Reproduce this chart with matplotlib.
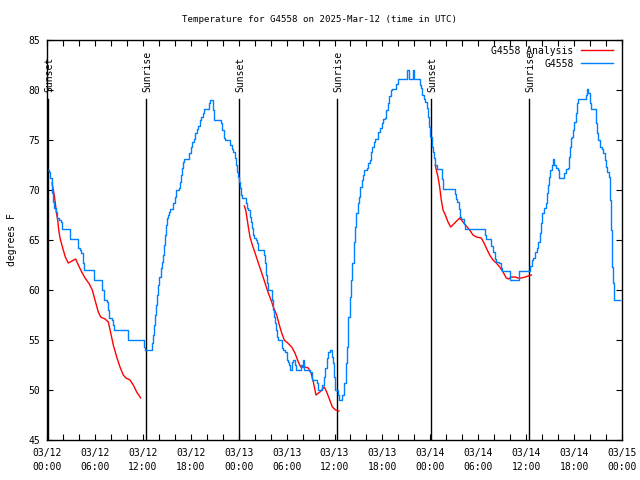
import matplotlib
matplotlib.use('Agg')
import matplotlib.pyplot as plt
import numpy as np

plt.rcParams.update({'font.size': 7, 'font.family': 'DejaVu Sans Mono'})

# hours since 03/12 00:00 UTC
obs_hr = [0.0, 0.16, 0.24, 0.41, 0.59, 0.71, 0.88, 1.13, 1.29, 1.50, 1.75, 1.88, 2.92, 3.84, 4.09, 4.30, 4.47, 4.60,
          5.92, 6.89, 7.14, 7.48, 7.68, 7.80, 8.10, 8.26, 8.39, 10.18, 12.11, 12.23, 13.19, 13.31, 13.44, 13.56,
          13.69, 13.81, 13.94, 14.06, 14.24, 14.36, 14.49, 14.61, 14.78, 14.90, 15.03, 15.19, 15.31, 15.44, 15.82,
          15.99, 16.15, 16.49, 16.62, 16.74, 16.87, 17.03, 17.16, 17.82, 17.99, 18.16, 18.37, 18.49, 18.75, 18.91,
          19.12, 19.32, 19.50, 19.66, 20.32, 20.45, 20.82, 20.91, 21.79, 21.95, 22.13, 22.29, 22.92, 23.13, 23.33,
          23.50, 23.63, 23.75, 23.88, 24.00, 24.13, 24.26, 24.42, 24.88, 25.01, 25.21, 25.38, 25.51, 25.63, 25.80,
          25.96, 26.17, 26.33, 26.46, 27.17, 27.30, 27.42, 27.59, 27.71, 28.14, 28.30, 28.42, 28.55, 28.67, 28.84,
          28.96, 29.39, 29.59, 29.80, 30.02, 30.22, 30.34, 30.47, 30.64, 30.84, 31.05, 31.22, 31.77, 31.89, 32.02,
          32.14, 32.93, 33.15, 33.77, 33.97, 34.47, 34.65, 34.81, 35.02, 35.22, 35.47, 35.65, 35.81, 35.98, 36.10,
          36.48, 36.60, 36.98, 37.23, 37.40, 37.57, 37.73, 37.90, 38.07, 38.23, 38.41, 38.57, 38.73, 38.91, 39.07,
          39.23, 39.41, 39.57, 39.73, 40.07, 40.23, 40.41, 40.57, 40.73, 40.91, 41.07, 41.49, 41.66, 41.91, 42.07,
          42.32, 42.45, 42.66, 42.86, 43.04, 43.16, 43.74, 43.91, 45.08, 45.29, 45.79, 45.99, 46.71, 46.83, 47.00,
          47.17, 47.33, 47.55, 47.71, 47.87, 48.00, 48.17, 48.33, 48.46, 48.62, 48.80, 49.50, 49.62, 51.05, 51.17,
          51.38, 51.55, 51.68, 51.88, 52.22, 52.38, 54.81, 55.01, 55.64, 55.85, 56.06, 56.26, 56.56, 56.81, 56.97,
          57.98, 59.07, 60.52, 60.69, 60.89, 61.11, 61.32, 61.52, 61.70, 61.86, 62.02, 62.20, 62.45, 62.57, 62.70,
          62.86, 63.02, 63.20, 63.36, 63.52, 63.70, 63.95, 64.11, 64.78, 64.95, 65.20, 65.33, 65.45, 65.58, 65.78,
          65.90, 66.03, 66.20, 66.37, 66.49, 67.49, 67.66, 67.79, 67.96, 68.12, 68.75, 68.91, 69.03, 69.25, 69.46,
          69.66, 69.87, 70.00, 70.16, 70.34, 70.50, 70.62, 70.71, 70.87, 71.04, 71.75]
obs_f = [72.0, 72.0, 71.8, 71.2, 69.7, 68.8, 68.2, 67.8, 67.2, 67.0, 66.8, 66.1, 65.1, 64.2, 64.0, 63.7, 62.7, 62.0,
         61.0, 60.0, 59.0, 58.8, 58.0, 57.2, 57.0, 56.5, 56.0, 55.0, 54.3, 54.0, 54.7, 55.5, 56.5, 57.5,
         58.5, 59.5, 60.5, 61.3, 62.2, 62.8, 63.5, 64.5, 65.5, 66.5, 67.2, 67.5, 67.8, 68.1, 68.7,
         69.3, 70.0, 70.2, 70.8, 71.5, 72.2, 72.8, 73.1, 73.7, 74.3, 74.8, 75.1, 75.7, 76.1, 76.4,
         77.0, 77.3, 77.7, 78.1, 78.7, 79.0, 78.0, 77.0, 76.7, 76.0, 75.2, 75.0, 74.5, 74.1, 73.8,
         73.2, 72.5, 71.8, 71.3, 70.8, 70.2, 69.5, 69.2, 68.7, 68.2, 68.0, 67.3, 66.8, 66.2, 65.5,
         65.2, 65.0, 64.7, 64.0, 63.5, 62.7, 61.5, 60.7, 60.0, 59.0, 58.0, 57.3, 56.7, 56.0, 55.3,
         55.0, 54.2, 54.0, 53.8, 53.0, 52.8, 52.5, 52.0, 52.8, 53.0, 52.5, 52.0, 52.5, 52.3, 53.0,
         52.0, 51.8, 51.0, 50.7, 50.0, 50.5, 51.3, 52.2, 53.2, 53.8, 54.0, 53.3, 52.7, 51.3, 50.0,
         49.5, 49.0, 49.5, 50.7, 52.7, 54.3, 57.3, 59.3, 61.0, 62.7, 64.8, 66.3, 67.7, 68.7, 69.3,
         70.3, 71.0, 71.5, 72.0, 72.2, 72.7, 73.0, 73.8, 74.3, 74.8, 75.1, 75.8, 76.2, 76.7, 77.1,
         77.2, 78.0, 78.7, 79.4, 80.0, 80.1, 80.6, 81.1, 82.0, 81.1, 82.0, 81.1, 80.5, 80.2, 79.5,
         79.1, 78.8, 78.2, 77.3, 76.3, 75.3, 74.3, 73.8, 73.2, 72.5, 72.1, 71.1, 70.1, 69.6, 69.1,
         68.8, 68.1, 67.3, 67.1, 66.6, 66.1, 65.5, 65.1, 64.4, 63.8, 63.1, 62.8, 62.7, 62.2, 61.9,
         61.0, 61.9, 62.4, 63.0, 63.2, 63.8, 64.2, 64.8, 65.7, 66.7, 67.7, 68.2, 68.7, 69.7, 70.5,
         71.3, 72.0, 72.5, 73.1, 72.5, 72.2, 72.0, 71.2, 71.7, 72.1, 72.2, 73.3, 74.3, 75.2, 75.3,
         76.0, 76.8, 77.7, 78.7, 79.1, 79.5, 80.1, 79.7, 78.7, 78.1, 76.7, 75.7, 75.0, 74.3, 74.1,
         73.7, 73.0, 72.3, 71.8, 71.3, 69.0, 66.0, 62.3, 60.7, 59.0, 59.0]

# analysis, three overnight segments
ana1_hr = [0.63, 0.79, 0.91, 1.04, 1.16, 1.34, 1.47, 1.63, 1.79, 2.04, 2.29, 2.67, 3.13, 3.59, 3.92, 4.35, 4.76,
           5.30, 5.67, 6.01, 6.42, 6.72, 7.26, 7.68, 7.98, 8.30, 8.73, 9.14, 9.55, 9.89, 10.39, 10.81, 11.23, 11.73]
ana1_f = [70.7, 70.0, 69.5, 68.7, 67.8, 67.0, 66.0, 65.2, 64.7, 64.0, 63.3, 62.7, 62.9, 63.1, 62.5, 61.8, 61.2,
          60.6, 60.0, 59.0, 57.8, 57.3, 57.1, 56.8, 55.7, 54.5, 53.3, 52.3, 51.5, 51.2, 51.0, 50.5, 49.8, 49.2]
ana2_hr = [24.71, 24.88, 25.04, 25.21, 25.42, 25.71, 26.05, 26.46, 26.89, 27.30, 27.71, 28.05, 28.34, 28.76, 29.09,
           29.39, 29.71, 30.14, 30.64, 31.05, 31.47, 31.77, 32.31, 32.72, 33.06, 33.35, 33.68, 34.18, 34.72, 35.02,
           35.31, 35.73, 36.15, 36.56]
ana2_f = [68.4, 68.0, 67.2, 66.3, 65.3, 64.5, 63.7, 62.7, 61.7, 60.7, 59.7, 59.0, 58.3, 57.5, 56.5,
          55.7, 55.0, 54.7, 54.3, 53.7, 52.8, 52.3, 52.3, 52.2, 51.7, 50.8, 49.5, 49.8, 50.3, 49.8,
          49.2, 48.3, 48.0, 47.9]
ana3_hr = [48.62, 48.75, 48.96, 49.17, 49.37, 49.59, 49.88, 50.21, 50.55, 51.05, 51.68, 52.09, 52.50, 52.93, 53.34,
           53.76, 54.38, 54.72, 55.01, 55.43, 55.85, 56.26, 56.69, 57.10, 57.51, 57.81, 58.14, 58.64, 58.98, 59.39,
           59.89, 60.23, 60.64]
ana3_f = [72.5, 72.0, 71.3, 70.3, 69.0, 68.0, 67.5, 66.8, 66.3, 66.7, 67.2, 66.8, 66.4, 66.0, 65.5,
          65.3, 65.2, 64.7, 64.2, 63.5, 63.0, 62.7, 62.3, 61.8, 61.2, 61.1, 61.3, 61.3, 61.2, 61.2,
          61.3, 61.4, 61.5]

sun_hr = [0.16, 12.43, 24.08, 36.36, 48.13, 60.40]
sun_lbl = ['Sunset', 'Sunrise', 'Sunset', 'Sunrise', 'Sunset', 'Sunrise']

tick_hr = list(range(0, 73, 6))
tick_lbl = ['03/12\n00:00', '03/12\n06:00', '03/12\n12:00', '03/12\n18:00',
            '03/13\n00:00', '03/13\n06:00', '03/13\n12:00', '03/13\n18:00',
            '03/14\n00:00', '03/14\n06:00', '03/14\n12:00', '03/14\n18:00', '03/15\n00:00']

fig = plt.figure(figsize=(6.4, 4.8), dpi=100)
ax = fig.add_axes([47/640, 40/480, 575/640, 400/480])

for h, lbl in zip(sun_hr, sun_lbl):
    ax.plot([h, h], [45, 79.1], color='black', lw=1)
    ax.text(h + 0.1, 79.8, lbl, rotation=90, ha='center', va='bottom')

ax.plot(ana1_hr, ana1_f, color='#ff0000', lw=1, label='G4558 Analysis')
ax.plot(ana2_hr, ana2_f, color='#ff0000', lw=1)
ax.plot(ana3_hr, ana3_f, color='#ff0000', lw=1)
ax.plot(obs_hr, obs_f, color='#0080ff', lw=1, drawstyle='steps-post', label='G4558')

ax.set_xlim(0, 72)
ax.set_ylim(45, 85)
ax.set_xticks(tick_hr, tick_lbl, linespacing=1.45)
ax.set_xticks(range(0, 73, 2), minor=True)
ax.set_yticks(range(45, 86, 5))
ax.tick_params(which='both', direction='in', top=True, right=True, length=4.5, width=0.8)
ax.tick_params(axis='x', pad=6)
ax.tick_params(axis='y', pad=5)
for s in ax.spines.values():
    s.set_linewidth(1)

ax.set_ylabel('degrees F', labelpad=8)
fig.text(0.5, 1 - 20/480, 'Temperature for G4558 on 2025-Mar-12 (time in UTC)', fontsize=6.6,
         ha='center', va='center')

leg = ax.legend(loc='upper right', bbox_to_anchor=(0.995, 1.0), frameon=False, markerfirst=False,
                handlelength=3.3, handletextpad=0.8, labelspacing=0.3, borderaxespad=0.2)

fig.savefig('out.png', dpi=100)
